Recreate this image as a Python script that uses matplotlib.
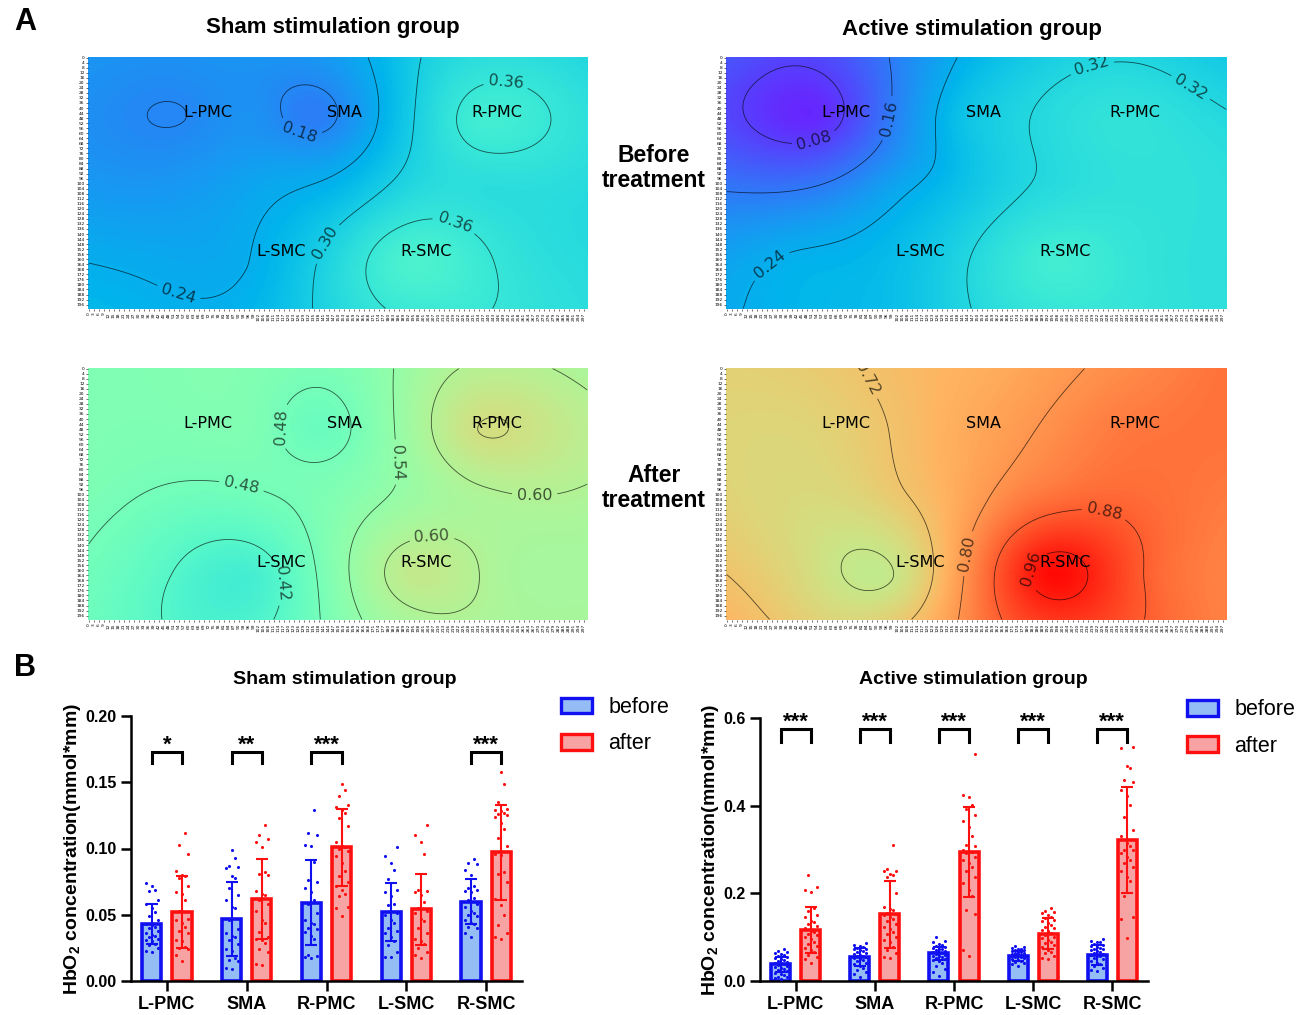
"""fNIRS HbO2 maps (A) and per-region bar charts (B)"""
import numpy as np
import matplotlib
matplotlib.use("Agg")
import matplotlib.pyplot as plt
from matplotlib.patches import Patch

# ---------------- data ----------------
regions = ["L-PMC", "SMA", "R-PMC", "L-SMC", "R-SMC"]

# anchor channels for the maps (x, y in map pixels)
channel_xy = [(57, 48), (138, 48), (235, 50), (97, 166), (194, 162),     # regions
              (0, 0), (100, 0), (165, 0), (200, 0), (250, 0), (300, 0),  # top edge
              (100, 45), (120, 85), (0, 100), (100, 100), (150, 110),    # interior
              (200, 100), (240, 105), (300, 100), (40, 160), (255, 165),
              (0, 200), (100, 200), (200, 200), (300, 200)]              # bottom edge

map_sham_before = [0.1793, 0.165, 0.38, 0.241, 0.40,
                   0.20, 0.20, 0.235, 0.30, 0.338, 0.32,
                   0.195, 0.218, 0.205, 0.225, 0.265,
                   0.325, 0.335, 0.33, 0.232, 0.35,
                   0.258, 0.255, 0.37, 0.335]
map_active_before = [0.055, 0.27, 0.35, 0.265, 0.38,
                     0.11, 0.165, 0.275, 0.305, 0.315, 0.29,
                     0.165, 0.232, 0.15, 0.22, 0.29,
                     0.33, 0.345, 0.34, 0.245, 0.35,
                     0.235, 0.27, 0.36, 0.34]
map_sham_after = [0.50, 0.457, 0.661, 0.385, 0.63,
                  0.50, 0.505, 0.51, 0.57, 0.61, 0.585,
                  0.50, 0.488, 0.495, 0.476, 0.51,
                  0.56, 0.59, 0.595, 0.435, 0.58,
                  0.465, 0.405, 0.59, 0.58]
map_active_after = [0.69, 0.76, 0.84, 0.634, 0.985,
                    0.695, 0.732, 0.765, 0.79, 0.82, 0.85,
                    0.723, 0.74, 0.69, 0.71, 0.79,
                    0.85, 0.865, 0.84, 0.68, 0.87,
                    0.745, 0.70, 0.93, 0.83]

levels_sham_before = [0.18, 0.24, 0.30, 0.36]
levels_active_before = [0.08, 0.16, 0.24, 0.32]
levels_sham_after = [0.42, 0.48, 0.54, 0.60, 0.66]
levels_active_after = [0.64, 0.72, 0.80, 0.88, 0.96]

# bar means and SD
sham_before_mean = [0.043, 0.047, 0.059, 0.052, 0.060]
sham_before_sd = [0.015, 0.028, 0.032, 0.022, 0.017]
sham_after_mean = [0.052, 0.062, 0.101, 0.054, 0.097]
sham_after_sd = [0.027, 0.030, 0.029, 0.027, 0.036]
active_before_mean = [0.038, 0.055, 0.063, 0.057, 0.059]
active_before_sd = [0.017, 0.020, 0.015, 0.011, 0.023]
active_after_mean = [0.116, 0.152, 0.294, 0.108, 0.322]
active_after_sd = [0.053, 0.076, 0.103, 0.035, 0.121]

# individual subjects
sham_before_pts = [
    [0.074, 0.072, 0.069, 0.068, 0.061, 0.058, 0.055, 0.052, 0.049, 0.046, 0.043, 0.042, 0.041,
     0.040, 0.038, 0.036, 0.035, 0.034, 0.033, 0.032, 0.031, 0.030, 0.028, 0.027, 0.025, 0.023, 0.022],
    [0.099, 0.093, 0.087, 0.086, 0.085, 0.079, 0.078, 0.070, 0.065, 0.061, 0.056, 0.055, 0.046,
     0.039, 0.036, 0.034, 0.033, 0.031, 0.028, 0.024, 0.023, 0.017, 0.016, 0.015, 0.010, 0.009],
    [0.129, 0.112, 0.110, 0.103, 0.102, 0.090, 0.076, 0.075, 0.070, 0.067, 0.061, 0.058, 0.051,
     0.046, 0.044, 0.043, 0.040, 0.039, 0.037, 0.034, 0.032, 0.020, 0.019, 0.018, 0.017],
    [0.101, 0.094, 0.089, 0.084, 0.077, 0.069, 0.067, 0.064, 0.058, 0.057, 0.051, 0.050, 0.046,
     0.044, 0.040, 0.038, 0.036, 0.033, 0.030, 0.027, 0.022, 0.018, 0.018],
    [0.092, 0.089, 0.088, 0.084, 0.080, 0.072, 0.070, 0.069, 0.068, 0.067, 0.063, 0.061, 0.058,
     0.056, 0.053, 0.051, 0.050, 0.049, 0.046, 0.044, 0.043, 0.041, 0.040, 0.036, 0.033],
]
sham_after_pts = [
    [0.112, 0.103, 0.096, 0.083, 0.080, 0.079, 0.078, 0.072, 0.067, 0.066, 0.061, 0.053, 0.047,
     0.046, 0.044, 0.041, 0.038, 0.036, 0.031, 0.030, 0.026, 0.025, 0.024, 0.020, 0.015],
    [0.118, 0.110, 0.107, 0.105, 0.101, 0.082, 0.081, 0.080, 0.068, 0.066, 0.065, 0.061, 0.058,
     0.053, 0.046, 0.044, 0.037, 0.033, 0.032, 0.031, 0.029, 0.024, 0.022, 0.013, 0.012],
    [0.149, 0.144, 0.140, 0.133, 0.131, 0.129, 0.127, 0.123, 0.117, 0.105, 0.102, 0.101, 0.100,
     0.098, 0.094, 0.089, 0.083, 0.079, 0.075, 0.072, 0.069, 0.066, 0.064, 0.056, 0.055, 0.049],
    [0.118, 0.110, 0.105, 0.096, 0.069, 0.068, 0.067, 0.065, 0.060, 0.055, 0.053, 0.051, 0.047,
     0.045, 0.040, 0.036, 0.032, 0.030, 0.028, 0.025, 0.022, 0.020, 0.017],
    [0.158, 0.149, 0.135, 0.130, 0.129, 0.128, 0.127, 0.126, 0.125, 0.124, 0.119, 0.115, 0.108,
     0.102, 0.096, 0.095, 0.082, 0.081, 0.075, 0.062, 0.057, 0.050, 0.042, 0.036, 0.033, 0.032],
]
active_before_pts = [
    [0.072, 0.068, 0.066, 0.063, 0.061, 0.059, 0.057, 0.055, 0.053, 0.050, 0.048, 0.046, 0.044,
     0.042, 0.040, 0.038, 0.036, 0.034, 0.032, 0.030, 0.027, 0.025, 0.022, 0.019, 0.016, 0.013,
     0.010, 0.008, 0.006, 0.005],
    [0.087, 0.083, 0.080, 0.078, 0.076, 0.074, 0.072, 0.070, 0.068, 0.066, 0.064, 0.062, 0.060,
     0.058, 0.056, 0.054, 0.052, 0.050, 0.048, 0.045, 0.042, 0.038, 0.034, 0.030, 0.025, 0.020,
     0.015, 0.010],
    [0.100, 0.092, 0.088, 0.085, 0.082, 0.080, 0.078, 0.076, 0.074, 0.072, 0.070, 0.068, 0.066,
     0.065, 0.063, 0.062, 0.060, 0.058, 0.056, 0.054, 0.052, 0.050, 0.048, 0.045, 0.040, 0.035,
     0.028, 0.020, 0.012],
    [0.080, 0.078, 0.076, 0.074, 0.072, 0.071, 0.070, 0.068, 0.067, 0.066, 0.065, 0.064, 0.062,
     0.061, 0.060, 0.059, 0.058, 0.057, 0.056, 0.055, 0.054, 0.052, 0.050, 0.048, 0.046, 0.044,
     0.042, 0.038, 0.034],
    [0.095, 0.092, 0.090, 0.088, 0.085, 0.082, 0.080, 0.078, 0.076, 0.074, 0.072, 0.070, 0.068,
     0.066, 0.064, 0.062, 0.060, 0.058, 0.056, 0.053, 0.050, 0.046, 0.042, 0.038, 0.034, 0.030,
     0.026, 0.022],
]
active_after_pts = [
    [0.241, 0.215, 0.207, 0.203, 0.167, 0.160, 0.150, 0.146, 0.138, 0.135, 0.130, 0.125, 0.120,
     0.115, 0.112, 0.108, 0.104, 0.100, 0.095, 0.090, 0.085, 0.080, 0.075, 0.070, 0.066, 0.060,
     0.055, 0.050, 0.042],
    [0.310, 0.256, 0.251, 0.250, 0.245, 0.241, 0.237, 0.200, 0.168, 0.165, 0.161, 0.156, 0.153,
     0.150, 0.146, 0.142, 0.138, 0.129, 0.124, 0.119, 0.112, 0.107, 0.100, 0.094, 0.088, 0.077,
     0.070, 0.063, 0.055, 0.052],
    [0.518, 0.425, 0.420, 0.402, 0.392, 0.379, 0.364, 0.352, 0.330, 0.311, 0.307, 0.300, 0.297,
     0.295, 0.292, 0.284, 0.277, 0.270, 0.261, 0.250, 0.238, 0.223, 0.208, 0.193, 0.162, 0.153,
     0.071, 0.056],
    [0.166, 0.160, 0.158, 0.155, 0.150, 0.146, 0.143, 0.140, 0.136, 0.132, 0.128, 0.124, 0.120,
     0.117, 0.113, 0.109, 0.105, 0.101, 0.098, 0.094, 0.090, 0.086, 0.082, 0.078, 0.071, 0.066,
     0.063, 0.056, 0.052, 0.050],
    [0.534, 0.532, 0.491, 0.486, 0.459, 0.455, 0.436, 0.421, 0.402, 0.375, 0.345, 0.330, 0.314,
     0.307, 0.300, 0.299, 0.292, 0.284, 0.276, 0.269, 0.261, 0.250, 0.238, 0.227, 0.193, 0.147,
     0.141, 0.099],
]

sham_stars = ["*", "**", "***", "", "***"]
active_stars = ["***", "***", "***", "***", "***"]

# ---------------- style ----------------
ARIAL = "Liberation Sans"
plt.rcParams["mathtext.fontset"] = "custom"
plt.rcParams["mathtext.bf"] = "Liberation Sans:bold"
plt.rcParams["mathtext.rm"] = "Liberation Sans"

BLUE, BLUE_FILL = "#1010f0", "#94bdf5"
RED, RED_FILL = "#ff1010", "#f8a3a3"
MAP_W, MAP_H = 300, 200
REGION_TXT = [(72, 44), (154, 44), (245, 44), (116, 154), (203, 154)]

# where the contour labels sit on each map
clabel_sham_before = [(127, 60), (57, 177), (143, 148), (251, 17), (221, 128)]
clabel_active_before = [(56, 82), (102, 50), (29, 169), (221, 16), (283, 14)]
clabel_sham_after = [(110, 46), (92, 94), (125, 170), (182, 75), (268, 103), (206, 127)]
clabel_active_after = [(85, 8), (148, 148), (226, 117), (174, 156)]


def tps_field(values):
    """ thin plate spline through the channel values """
    pts = np.array(channel_xy, float) / 100.0
    v = np.array(values, float)
    n = len(pts)

    def kern(r):
        with np.errstate(divide="ignore", invalid="ignore"):
            k = r ** 2 * np.log(r)
        return np.nan_to_num(k)

    d = np.linalg.norm(pts[:, None, :] - pts[None, :, :], axis=-1)
    P = np.column_stack([np.ones(n), pts])
    A = np.zeros((n + 3, n + 3))
    A[:n, :n] = kern(d)
    A[:n, n:] = P
    A[n:, :n] = P.T
    coef = np.linalg.solve(A, np.concatenate([v, np.zeros(3)]))
    gx, gy = np.meshgrid(np.arange(MAP_W) + 0.5, np.arange(MAP_H) + 0.5)
    qx, qy = gx / 100.0, gy / 100.0
    dd = np.sqrt((qx[..., None] - pts[:, 0]) ** 2 + (qy[..., None] - pts[:, 1]) ** 2)
    z = kern(dd) @ coef[:n] + coef[n] + coef[n + 1] * qx + coef[n + 2] * qy
    return gx, gy, z


def draw_map(rect, values, levels, label_pos):
    ax = fig.add_axes(rect)
    gx, gy, z = tps_field(values)
    ax.imshow(z, cmap="rainbow", vmin=0, vmax=1, extent=(0, MAP_W, MAP_H, 0),
              aspect="auto", interpolation="bilinear")
    cs = ax.contour(gx, gy, z, levels=levels, colors="k", linewidths=0.6, alpha=0.65)
    ax.clabel(cs, fmt="%.2f", fontsize=11.5, inline=True, manual=label_pos)
    for name, (x, y) in zip(regions, REGION_TXT):
        ax.text(x, y, name, ha="center", va="center", fontsize=11.5, color="k")
    ax.set_xlim(0, MAP_W)
    ax.set_ylim(MAP_H, 0)
    ax.set_xticks(np.arange(0, MAP_W, 3) + 0.5)
    ax.set_xticklabels([str(i) for i in range(0, MAP_W, 3)], rotation=90, fontsize=3.2)
    ax.set_yticks(np.arange(0, MAP_H, 4) + 0.5)
    ax.set_yticklabels([str(i) for i in range(0, MAP_H, 4)], fontsize=3.2)
    ax.tick_params(length=1.5, width=0.4, pad=1)
    for s in ax.spines.values():
        s.set_visible(False)


def jitter(n):
    pattern = np.array([0.0, -0.075, 0.075, -0.038, 0.038])
    return pattern[np.arange(n) % len(pattern)]


def draw_bars(rect, ymax, yticks, fmt, b_mean, b_sd, a_mean, a_sd, b_pts, a_pts,
              stars, y_leg, y_top, y_star, title, title_x):
    ax = fig.add_axes(rect)
    x = np.arange(len(regions))
    off, bw = 0.19, 0.24
    for sign, mean, sd, pts, col, fill in [(-1, b_mean, b_sd, b_pts, BLUE, BLUE_FILL),
                                           (1, a_mean, a_sd, a_pts, RED, RED_FILL)]:
        xs = x + sign * off
        ax.bar(xs, mean, width=bw, color=fill, edgecolor=col, linewidth=2.6, zorder=2)
        for xi, p in zip(xs, pts):
            p = np.sort(p)
            ax.scatter(xi + jitter(len(p)), p, s=5, color=col, zorder=3, linewidths=0)
        ax.errorbar(xs, mean, yerr=sd, fmt="none", ecolor=col, elinewidth=1.5,
                    capsize=4, capthick=1.5, zorder=4)
    for xi, st in zip(x, stars):
        if not st:
            continue
        ax.plot([xi - off, xi - off, xi + off, xi + off], [y_leg, y_top, y_top, y_leg],
                color="k", lw=2.2, clip_on=False, solid_joinstyle="miter")
        ax.text(xi, y_star, st, ha="center", va="baseline", fontsize=16,
                fontweight="bold", family=ARIAL)
    ax.set_xlim(-0.45, 4.45)
    ax.set_ylim(0, ymax)
    ax.set_xticks(x)
    ax.set_xticklabels(regions, fontsize=13, fontweight="bold", family=ARIAL)
    ax.set_yticks(yticks)
    ax.set_yticklabels([fmt % t for t in yticks], fontsize=11.5, fontweight="bold", family=ARIAL)
    ax.tick_params(direction="out", length=7, width=1.8)
    for s in ["top", "right"]:
        ax.spines[s].set_visible(False)
    for s in ["left", "bottom"]:
        ax.spines[s].set_linewidth(1.8)
    ax.set_ylabel("HbO$_\\mathbf{2}$ concentration(mmol*mm)", fontsize=14,
                  fontweight="bold", family=ARIAL, labelpad=1.5)
    handles = [Patch(facecolor=BLUE_FILL, edgecolor=BLUE, linewidth=2.4),
               Patch(facecolor=RED_FILL, edgecolor=RED, linewidth=2.4)]
    ax.legend(handles, ["before", "after"], loc="upper left", bbox_to_anchor=(1.05, 1.145),
              frameon=False, handlelength=1.45, handleheight=0.75,
              labelspacing=0.72, handletextpad=0.75, prop={"family": ARIAL, "size": 15.5})
    fig.text(title_x, 1 - 680 / 1015, title, ha="center", va="center", fontsize=14,
             fontweight="bold", family=ARIAL)
    return ax


fig = plt.figure(figsize=(13.04, 10.15), dpi=100)
W, H = 1304, 1015


def frac(x0, y0, x1, y1):
    return [x0 / W, 1 - y1 / H, (x1 - x0) / W, (y1 - y0) / H]


draw_map(frac(88, 57, 588, 309), map_sham_before, levels_sham_before, clabel_sham_before)
draw_map(frac(726, 57, 1227, 309), map_active_before, levels_active_before, clabel_active_before)
draw_map(frac(88, 368, 588, 620), map_sham_after, levels_sham_after, clabel_sham_after)
draw_map(frac(726, 368, 1227, 620), map_active_after, levels_active_after, clabel_active_after)

fig.text(25 / W, 1 - 22 / H, "A", fontsize=22, fontweight="bold", family=ARIAL, ha="center", va="center")
fig.text(25 / W, 1 - 668 / H, "B", fontsize=22, fontweight="bold", family=ARIAL, ha="center", va="center")
fig.text(333 / W, 1 - 27 / H, "Sham stimulation group", fontsize=16, fontweight="bold",
         family=ARIAL, ha="center", va="center")
fig.text(972 / W, 1 - 29 / H, "Active stimulation group", fontsize=16, fontweight="bold",
         family=ARIAL, ha="center", va="center")
fig.text(654 / W, 1 - 168 / H, "Before\ntreatment", fontsize=16.5, fontweight="bold",
         family=ARIAL, ha="center", va="center", linespacing=1.15)
fig.text(654 / W, 1 - 488 / H, "After\ntreatment", fontsize=16.5, fontweight="bold",
         family=ARIAL, ha="center", va="center", linespacing=1.15)

draw_bars(frac(131, 716, 522, 981), 0.2, [0, 0.05, 0.10, 0.15, 0.20], "%.2f",
          sham_before_mean, sham_before_sd, sham_after_mean, sham_after_sd,
          sham_before_pts, sham_after_pts, sham_stars, 0.1645, 0.1728, 0.1735,
          "Sham stimulation group", 345 / W)
draw_bars(frac(760, 718, 1148, 981), 0.6, [0, 0.2, 0.4, 0.6], "%.1f",
          active_before_mean, active_before_sd, active_after_mean, active_after_sd,
          active_before_pts, active_after_pts, active_stars, 0.545, 0.575, 0.577,
          "Active stimulation group", 973 / W)

fig.savefig("out.png", dpi=100)
